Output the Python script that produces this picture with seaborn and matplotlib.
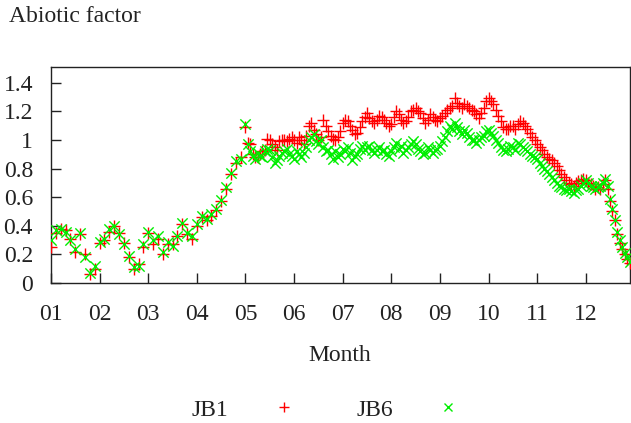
import numpy as np
import pandas as pd
import matplotlib
matplotlib.use("Agg")
import matplotlib.pyplot as plt
import seaborn as sns
from matplotlib.lines import Line2D

# main readings every 0.1 month
month = [round(1.0 + 0.1 * i, 1) for i in range(120)]

jb1 = [0.25, 0.35, 0.38, 0.37, 0.31, 0.22, 0.34, 0.20, 0.06, 0.10,
       0.28, 0.30, 0.36, 0.40, 0.35, 0.28, 0.18, 0.10, 0.13, 0.25,
       0.35, 0.27, 0.31, 0.20, 0.27, 0.27, 0.33, 0.41, 0.34, 0.31,
       0.40, 0.46, 0.44, 0.47, 0.51, 0.57, 0.66, 0.76, 0.84, 0.88,
       1.09, 0.97, 0.88, 0.90, 0.93, 1.00, 0.95, 0.99, 1.00, 1.01,
       1.00, 1.02, 0.97, 1.10, 1.07, 1.00, 1.14, 1.06, 1.01, 1.02,
       1.12, 1.13, 1.07, 1.05, 1.13, 1.19, 1.13, 1.14, 1.16, 1.12,
       1.11, 1.20, 1.14, 1.13, 1.20, 1.22, 1.19, 1.12, 1.18, 1.14,
       1.15, 1.19, 1.22, 1.29, 1.24, 1.25, 1.22, 1.20, 1.15, 1.22,
       1.29, 1.25, 1.17, 1.09, 1.08, 1.10, 1.11, 1.12, 1.08, 1.02,
       0.97, 0.93, 0.88, 0.86, 0.82, 0.76, 0.72, 0.69, 0.70, 0.72,
       0.72, 0.69, 0.66, 0.66, 0.72, 0.57, 0.44, 0.28, 0.20, 0.14]

jb6 = [0.30, 0.37, 0.38, 0.36, 0.30, 0.24, 0.35, 0.18, 0.07, 0.12,
       0.29, 0.31, 0.38, 0.40, 0.34, 0.27, 0.19, 0.11, 0.12, 0.27,
       0.36, 0.30, 0.33, 0.22, 0.29, 0.26, 0.33, 0.42, 0.35, 0.33,
       0.41, 0.47, 0.45, 0.48, 0.52, 0.58, 0.67, 0.77, 0.85, 0.87,
       1.11, 0.92, 0.87, 0.89, 0.92, 0.93, 0.84, 0.89, 0.92, 0.90,
       0.87, 0.90, 0.91, 1.00, 1.04, 0.97, 0.95, 0.93, 0.87, 0.88,
       0.94, 0.95, 0.86, 0.90, 0.96, 0.95, 0.93, 0.93, 0.92, 0.90,
       0.92, 0.98, 0.96, 0.93, 0.97, 0.97, 0.92, 0.91, 0.93, 0.93,
       0.96, 1.02, 1.10, 1.12, 1.06, 1.07, 1.02, 1.00, 1.00, 1.03,
       1.07, 1.03, 0.98, 0.93, 0.94, 0.95, 0.98, 0.95, 0.92, 0.89,
       0.87, 0.82, 0.78, 0.74, 0.70, 0.67, 0.65, 0.64, 0.65, 0.68,
       0.72, 0.68, 0.66, 0.68, 0.73, 0.59, 0.44, 0.30, 0.21, 0.15]

# extra readings in between (denser part of the record, May - December)
month_mid = [round(5.05 + 0.1 * i, 2) for i in range(79)]

jb1_mid = [0.98, 0.90, 0.88, 0.92, 1.01, 0.97, 0.93, 1.00, 0.99, 1.02,
           0.98, 1.00, 1.03, 1.12, 1.04, 1.02, 1.10, 1.03, 1.00, 1.06,
           1.14, 1.10, 1.04, 1.09, 1.16, 1.15, 1.12, 1.17, 1.14, 1.10,
           1.16, 1.18, 1.12, 1.16, 1.21, 1.20, 1.15, 1.14, 1.16, 1.13,
           1.17, 1.21, 1.24, 1.26, 1.22, 1.24, 1.21, 1.18, 1.19, 1.27,
           1.27, 1.21, 1.13, 1.08, 1.10, 1.08, 1.13, 1.10, 1.05, 1.00,
           0.95, 0.90, 0.87, 0.84, 0.79, 0.74, 0.70, 0.68, 0.71, 0.73,
           0.70, 0.68, 0.67, 0.69, 0.66, 0.50, 0.34, 0.24, 0.17]

jb6_mid = [0.97, 0.89, 0.91, 0.88, 0.94, 0.88, 0.86, 0.91, 0.94, 0.89,
           0.92, 0.88, 0.95, 1.02, 0.99, 1.00, 0.92, 0.90, 0.92, 0.90,
           0.92, 0.91, 0.89, 0.94, 0.93, 0.96, 0.91, 0.95, 0.93, 0.89,
           0.95, 0.94, 0.91, 0.95, 0.99, 0.94, 0.90, 0.95, 0.91, 0.94,
           0.99, 1.06, 1.08, 1.09, 1.04, 1.05, 1.00, 0.98, 1.02, 1.06,
           1.05, 1.00, 0.95, 0.92, 0.96, 0.93, 0.97, 0.94, 0.90, 0.88,
           0.84, 0.80, 0.76, 0.72, 0.68, 0.66, 0.66, 0.63, 0.66, 0.70,
           0.70, 0.67, 0.67, 0.70, 0.68, 0.52, 0.36, 0.25, 0.18]

xticks = list(range(1, 13))
xtick_labels = ["01", "02", "03", "04", "05", "06", "07", "08", "09", "10", "11", "12"]
yticks = [0, 0.2, 0.4, 0.6, 0.8, 1.0, 1.2, 1.4]
ytick_labels = ["0", "0.2", "0.4", "0.6", "0.8", "1", "1.2", "1.4"]

sns.set_style("white")
plt.rcParams['font.family'] = ['Liberation Serif', 'DejaVu Serif']

RED = "#ff0000"
GREEN = "#00ee00"
TXT = "#222222"
FS = 17

W, H = 631, 423
fig = plt.figure(figsize=(W / 100, H / 100), dpi=100)
ax = fig.add_axes([51 / W, 1 - 283 / H, (630 - 51) / W, (283 - 67) / H])

df1 = pd.DataFrame({"Month": month + month_mid, "Value": jb1 + jb1_mid})
df6 = pd.DataFrame({"Month": month + month_mid, "Value": jb6 + jb6_mid})
sns.scatterplot(data=df1, x="Month", y="Value", ax=ax, marker="+", color=RED,
                s=75, linewidth=1.0, legend=False, zorder=3)
sns.scatterplot(data=df6, x="Month", y="Value", ax=ax, marker="x", color=GREEN,
                s=55, linewidth=1.0, legend=False, zorder=4)

ax.set_xlim(1, 12.91)
ax.set_ylim(0, 1.51)
ax.set_xticks(xticks)
ax.set_xticklabels(xtick_labels)
ax.set_yticks(yticks)
ax.set_yticklabels(ytick_labels)
ax.tick_params(axis="both", direction="in", length=7, width=1, labelsize=FS,
               colors=TXT, bottom=True, left=True, top=False, right=False)
ax.tick_params(axis="x", pad=15)
ax.tick_params(axis="y", pad=13)
for sp in ax.spines.values():
    sp.set_visible(True)
    sp.set_color(TXT)
    sp.set_linewidth(1.0)
ax.set_xlabel("")
ax.set_ylabel("")

fig.text(340 / W, 1 - 355 / H, "Month", ha="center", va="center", fontsize=FS, color=TXT)
fig.text(9 / W, 1 - 16 / H, "Abiotic factor", ha="left", va="center", fontsize=FS, color=TXT)

handles = [Line2D([], [], linestyle="none", marker="+", color=RED, markersize=7, markeredgewidth=1),
           Line2D([], [], linestyle="none", marker="x", color=GREEN, markersize=6, markeredgewidth=1)]
leg = fig.legend(handles, ["JB1", "JB6"], loc="center", bbox_to_anchor=(332 / W, 1 - 410 / H),
                 ncol=2, frameon=False, markerfirst=False, fontsize=FS,
                 handlelength=2, handletextpad=1.33, columnspacing=2.1,
                 borderpad=0, borderaxespad=0)
for t in leg.get_texts():
    t.set_color(TXT)

fig.savefig("out.png", dpi=100)
